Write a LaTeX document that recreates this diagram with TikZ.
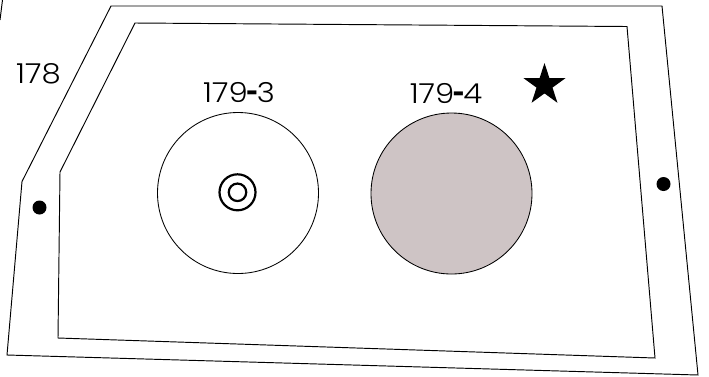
\documentclass[tikz,border=0pt]{standalone}
\usepackage{fontspec}
\setmainfont[FakeStretch=1.12]{Poppins Light}
\newfontfamily\heavyhyphen[FakeStretch=0.75]{Poppins Bold}
\newcommand{\plothyphen}{{\kern-1.5pt\heavyhyphen-\kern-1.5pt}}
\usetikzlibrary{shapes.geometric}
\definecolor{plotfill}{RGB}{206,196,197}
\tikzset{
  boundary/.style={draw=black,line width=0.95pt,line join=miter},
  plot/.style={circle,draw=black,line width=0.85pt,minimum size=161pt,inner sep=0pt},
  ring/.style={circle,draw=black,line width=2.2pt,inner sep=0pt},
  marker/.style={circle,fill=black,minimum size=14pt,inner sep=0pt},
  label/.style={font=\fontsize{27.5}{28}\selectfont,inner sep=0pt,text=black}
}
\begin{document}
\begin{tikzpicture}[x=1pt,y=-1pt]
\useasboundingbox (0,0) rectangle (709,376);
\draw[boundary] (111,6) -- (662,6) -- (698,375) -- (7,355) -- (22,181.5) -- cycle;
\draw[boundary] (135,23) -- (627,26.5) -- (655,358) -- (58,338) -- (60,172) -- cycle;
\coordinate (stubA) at (0,20);
\coordinate (stubB) at (2.5,0);
\draw[boundary] (stubA) -- (stubB);
\node[plot] (c3) at (238,193) {};
\node[plot,fill=plotfill] (c4) at (451.5,193.5) {};
\node[ring,minimum size=36pt] (r1) at (237.5,192.3) {};
\node[ring,minimum size=17.5pt] (r2) at (237.5,192.3) {};
\node[marker] (d1) at (39.5,207.5) {};
\node[marker] (d2) at (663.5,184) {};
\node[star,star points=5,star point ratio=2.618,fill=black,minimum size=44pt,inner sep=0pt] (s) at (544.5,85) {};
\node[label] (l178) at (38.5,74) {178};
\node[label] (l3) at (239,93) {179\plothyphen 3};
\node[label] (l4) at (446,93) {179\plothyphen 4};
\end{tikzpicture}
\end{document}
